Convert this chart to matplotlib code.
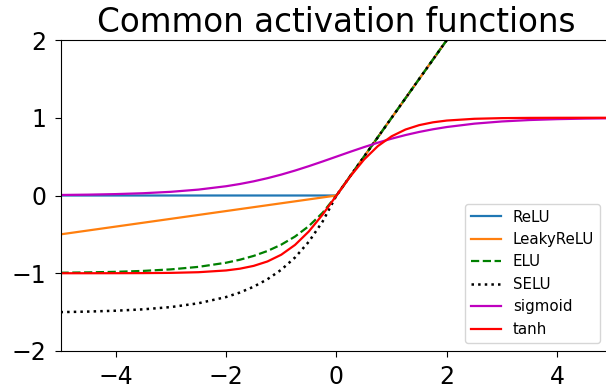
import matplotlib
matplotlib.use("Agg")
import matplotlib.pyplot as plt

# ---- data ----
x_pw = [-5.0, 0.0, 5.0]
relu_y = [0.0, 0.0, 5.0]
leaky_y = [-0.5, 0.0, 5.0]

x_neg = [-5.0, -4.5, -4.0, -3.5, -3.0, -2.5, -2.0, -1.75, -1.5, -1.25,
         -1.0, -0.75, -0.5, -0.25, 0.0, 5.0]
elu_y = [-0.9933, -0.9889, -0.9817, -0.9698, -0.9502, -0.9179, -0.8647,
         -0.8262, -0.7769, -0.7135, -0.6321, -0.5276, -0.3935, -0.2212,
         0.0, 5.0]
selu_y = [-1.500, -1.493, -1.482, -1.464, -1.435, -1.386, -1.306,
          -1.248, -1.173, -1.077, -0.955, -0.797, -0.594, -0.334,
          0.0, 5.0]

x_s = [-5.0, -4.5, -4.0, -3.5, -3.0, -2.5, -2.0, -1.75, -1.5, -1.25,
       -1.0, -0.75, -0.5, -0.25, 0.0, 0.25, 0.5, 0.75, 1.0, 1.25, 1.5,
       1.75, 2.0, 2.5, 3.0, 3.5, 4.0, 4.5, 5.0]
sigmoid_y = [0.0067, 0.0110, 0.0180, 0.0293, 0.0474, 0.0759, 0.1192,
             0.1480, 0.1824, 0.2227, 0.2689, 0.3208, 0.3775, 0.4378,
             0.5, 0.5622, 0.6225, 0.6792, 0.7311, 0.7773, 0.8176,
             0.8520, 0.8808, 0.9241, 0.9526, 0.9707, 0.9820, 0.9890,
             0.9933]
tanh_y = [-0.9999, -0.9998, -0.9993, -0.9982, -0.9951, -0.9866, -0.9640,
          -0.9414, -0.9052, -0.8483, -0.7616, -0.6352, -0.4621, -0.2449,
          0.0, 0.2449, 0.4621, 0.6352, 0.7616, 0.8483, 0.9052,
          0.9414, 0.9640, 0.9866, 0.9951, 0.9982, 0.9993, 0.9998,
          0.9999]

x_ticks = [-4, -2, 0, 2, 4]
y_ticks = [-2, -1, 0, 1, 2]

# ---- figure ----
W, H = 606, 388
fig = plt.figure(figsize=(W / 100, H / 100), dpi=100)
ax_l, ax_r, ax_b, ax_t = 60.5, 612.4, 351, 40
ax = fig.add_axes([ax_l / W, (H - ax_b) / H, (ax_r - ax_l) / W, (ax_b - ax_t) / H])

ax.plot(x_pw, relu_y, color="tab:blue", lw=1.6, label="ReLU")
ax.plot(x_pw, leaky_y, color="tab:orange", lw=1.6, label="LeakyReLU")
ax.plot(x_neg, elu_y, "g--", lw=1.6, label="ELU")
ax.plot(x_neg, selu_y, "k:", lw=1.8, label="SELU")
ax.plot(x_s, sigmoid_y, "m", lw=1.6, label="sigmoid")
ax.plot(x_s, tanh_y, "r", lw=1.6, label="tanh")

ax.set_xlim(-5, 5)
ax.set_ylim(-2, 2)
ax.set_xticks(x_ticks)
ax.set_yticks(y_ticks)
ax.tick_params(labelsize=17, length=4.2, pad=5.8)
ax.set_title("Common activation functions", fontsize=23.5)
ax.legend(loc="lower right", fontsize=10.8, borderaxespad=0,
          bbox_to_anchor=((600 - ax_l) / (ax_r - ax_l), 8 / (ax_b - ax_t)))

fig.savefig("out.png", dpi=100)
